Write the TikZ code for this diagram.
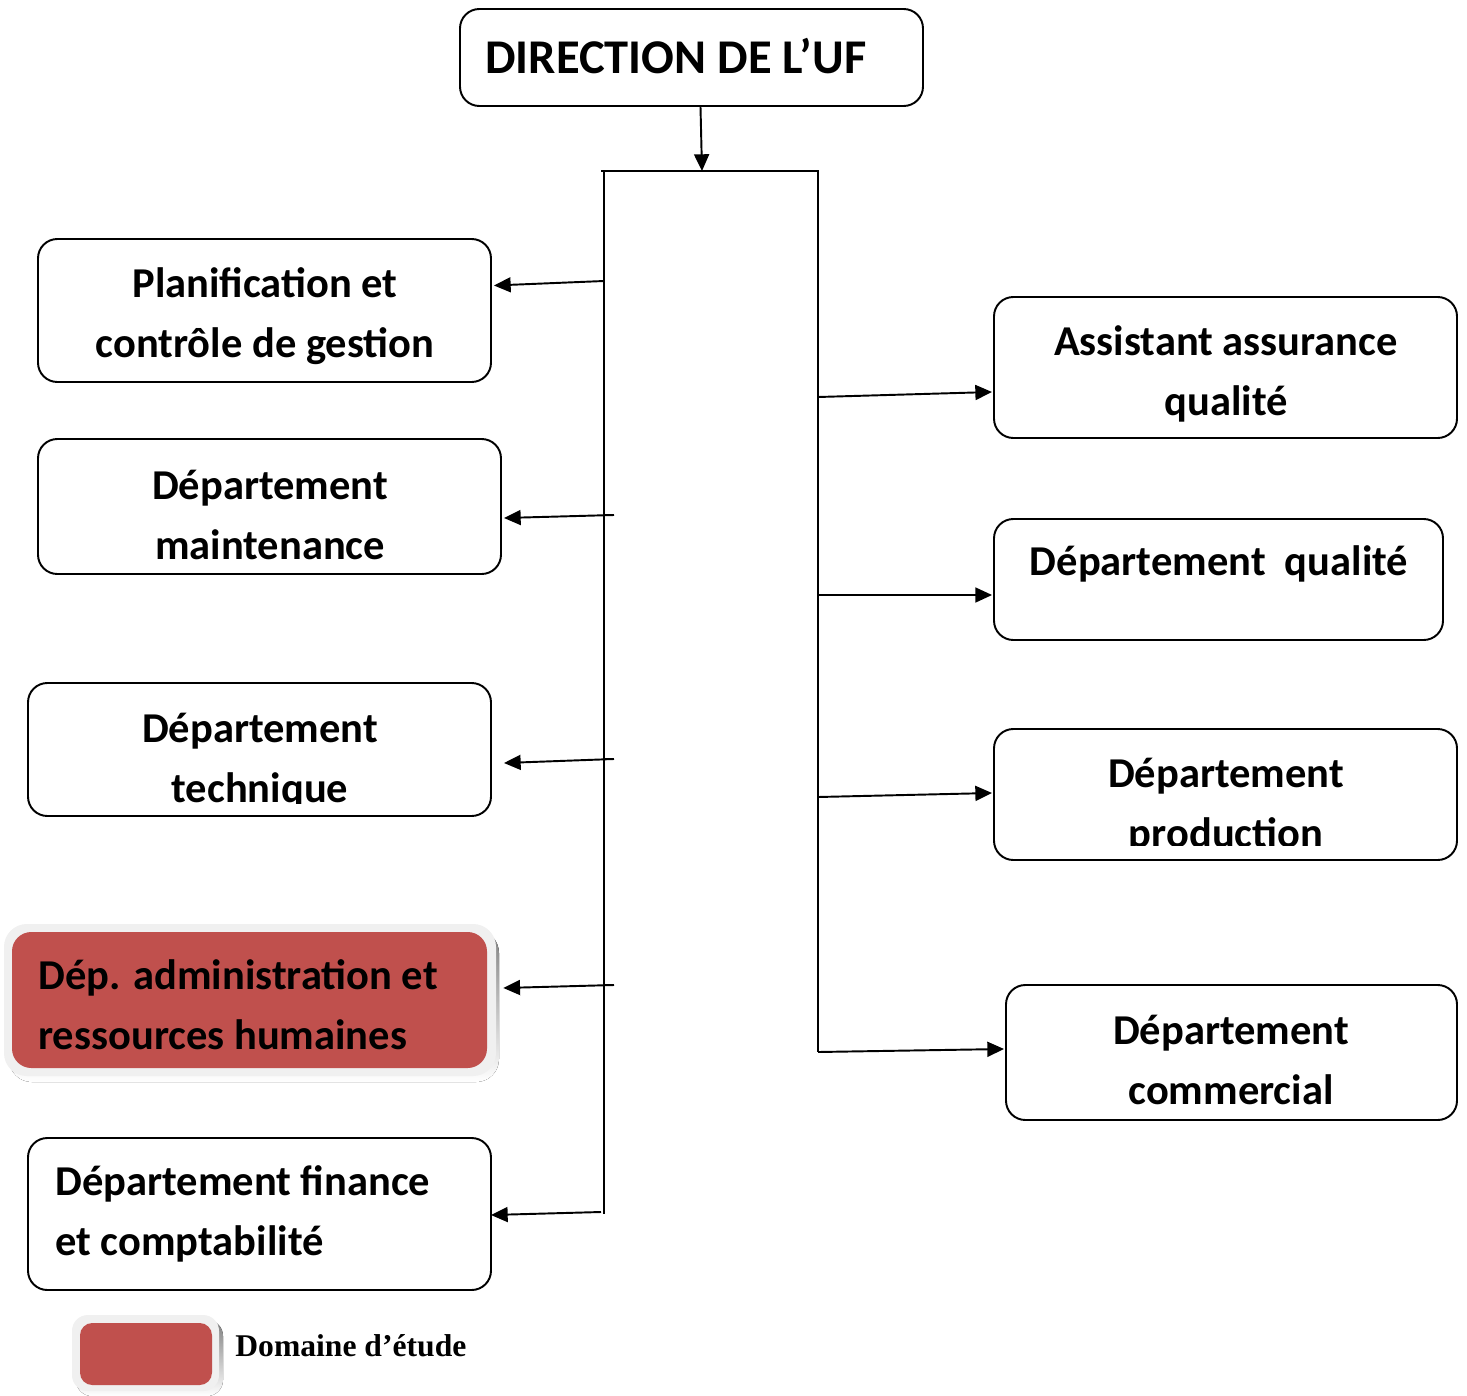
\documentclass[tikz,border=0pt]{standalone}
\usepackage{fontspec}
\setmainfont{Carlito}
\newfontfamily\legendfont{Liberation Serif}
\usetikzlibrary{arrows.meta,calc,fit}
\definecolor{accent}{HTML}{C0504D}
\definecolor{ring}{HTML}{F0F0F0}
\definecolor{shade}{HTML}{8E6666}
\begin{document}
\begin{tikzpicture}[x=0.02cm,y=-0.02cm,
  unit/.style={draw, line width=1.1pt, rounded corners=11pt, inner sep=0pt},
  lbl/.style={font=\bfseries\fontsize{24.2}{34}\selectfont, align=center, inner sep=0pt},
  lbll/.style={font=\bfseries\fontsize{24.2}{34}\selectfont, align=left, inner sep=0pt, anchor=west},
  bus/.style={line width=1.1pt},
  conn/.style={line width=1.1pt, -{Triangle[length=9.5pt,width=8.5pt]}}]
\useasboundingbox (0,0) rectangle (1467,1396);

% top management
\node[unit, fit={(460,9) (923,106)}] (dir) {};
\node[lbll, font=\bfseries\fontsize{27.6}{34}\selectfont] at (485,56) {DIRECTION DE L’UF};

% left column
\node[unit, fit={(38,239) (491,382)}] (plan) {};
\node[lbl] at (265,316) {Planification et\\contrôle de gestion};

\node[unit, fit={(38,439) (501,574)}] (maint) {};
\node[lbl] at (270,515) {Département\\maintenance};

\node[unit, fit={(28,683) (491,816)}] (tech) {};
\begin{scope}
  \clip (28,683) rectangle (491,803);
  \node[lbl] at (260,761) {Département\\technique};
\end{scope}

% highlighted unit
\fill[shade, rounded corners=13pt] (9,930) rectangle (499,1082);
\fill[ring, rounded corners=13pt] (4,924) rectangle (496,1076);
\node[fill=accent, rounded corners=11pt, inner sep=0pt, fit={(12,932) (487,1068)}] (admin) {};
\node[lbll] at (38,1005) {Dép. administration et\\ressources humaines};

\node[unit, fit={(28,1138) (491,1290)}] (fin) {};
\node[lbll] at (55,1214) {Département finance\\et comptabilité};

% right column
\node[unit, fit={(994,297) (1457,438)}] (assur) {};
\node[lbl] at (1226,374) {Assistant assurance\\qualité};

\node[unit, fit={(994,519) (1443,640)}] (qual) {};
\node[lbl] at (1219,564) {Département~~qualité};

\node[unit, fit={(994,729) (1457,860)}] (prod) {};
\begin{scope}
  \clip (994,729) rectangle (1457,845);
  \node[lbl] at (1226,806) {Département\\production};
\end{scope}

\node[unit, fit={(1006,985) (1457,1120)}] (comm) {};
\node[lbl] at (1231,1060) {Département\\commercial};

% bus lines
\coordinate (top) at (702,171);
\draw[bus] (601,171) -- (818,171) -- (818,1052);
\draw[bus] (604,171) -- (604,1214);
\draw[bus] (604,515) -- (614,515);
\draw[bus] (604,759) -- (614,759);
\draw[bus] (604,985) -- (614,985);

\coordinate (l1) at (604,281);
\coordinate (l2) at (614,515);
\coordinate (l3) at (614,759);
\coordinate (l4) at (614,985);
\coordinate (l5) at (601,1212);
\coordinate (r1) at (818,397);
\coordinate (r2) at (818,595);
\coordinate (r3) at (818,797);
\coordinate (r4) at (818,1052);

\draw[conn] ($(dir.south)+(9,0)$) -- (top);
\draw[conn] (l1) -- ($(plan.east)+(2,-25)$);
\draw[conn] (l2) -- ($(maint.east)+(2,11.5)$);
\draw[conn] (l3) -- ($(tech.east)+(12,13.5)$);
\draw[conn] (l4) -- ($(admin.east)+(16,-12)$);
\draw[conn] (l5) -- ($(fin.east)+(-1,1)$);
\draw[conn] (r1) -- ($(assur.west)+(-1,24.5)$);
\draw[conn] (r2) -- ($(qual.west)+(-1,15.5)$);
\draw[conn] (r3) -- ($(prod.west)+(-1,-1.5)$);
\draw[conn] (r4) -- ($(comm.west)+(-1,-3.5)$);

% legend
\fill[shade, rounded corners=9pt] (76,1320) rectangle (223,1396);
\fill[ring, rounded corners=9pt] (72,1315) rectangle (219,1391);
\node[fill=accent, rounded corners=7pt, inner sep=0pt, fit={(80,1323) (212,1385)}] (key) {};
\node[anchor=west, inner sep=0pt, font=\legendfont\bfseries\fontsize{18}{22}\selectfont] at (235,1346) {Domaine d’étude};
\end{tikzpicture}
\end{document}
